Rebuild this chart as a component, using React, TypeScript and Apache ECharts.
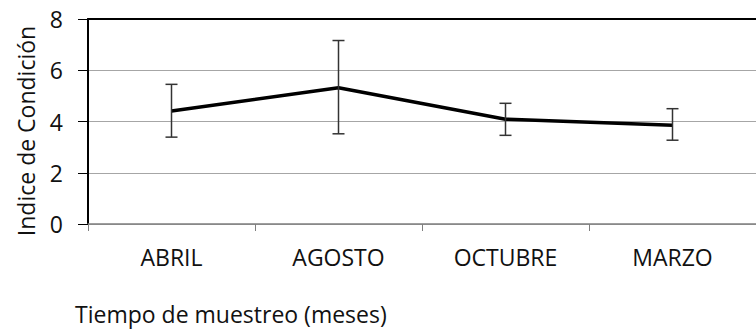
import React, { useEffect, useRef } from "react";
import * as echarts from "echarts";

const categories = ["ABRIL", "AGOSTO", "OCTUBRE", "MARZO"];
const means = [4.41, 5.32, 4.09, 3.85];
const errLow = [3.39, 3.52, 3.46, 3.27];
const errHigh = [5.45, 7.16, 4.71, 4.5];
const yTicks = [0, 2, 4, 6, 8];

const FONT = "'Open Sans', sans-serif";
const TXT = "#111111";

export default function App() {
  const ref = useRef<HTMLDivElement>(null);
  useEffect(() => {
    if (!ref.current) return;
    const chart = echarts.init(ref.current, null, { renderer: "svg" });
    const errData = categories.map((c, i) => [i, errLow[i], errHigh[i]]);
    chart.setOption({
      animation: false,
      backgroundColor: "#ffffff",
      grid: { left: 88, top: 19, width: 680, height: 205, containLabel: false },
      xAxis: [
        {
          type: "category",
          data: categories,
          boundaryGap: true,
          axisLine: { show: true, lineStyle: { color: "#7f7f7f", width: 1.5 } },
          axisTick: { show: true, length: 7, lineStyle: { color: "#7f7f7f", width: 1 } },
          axisLabel: { color: TXT, fontFamily: FONT, fontSize: 23, margin: 21 },
          splitLine: { show: false },
        },
        {
          type: "category",
          data: categories,
          position: "top",
          axisLine: { show: true, lineStyle: { color: "#000000", width: 2 } },
          axisTick: { show: false },
          axisLabel: { show: false },
        },
      ],
      yAxis: {
        type: "value",
        min: yTicks[0],
        max: yTicks[yTicks.length - 1],
        interval: 2,
        axisLine: { show: true, lineStyle: { color: "#000000", width: 2 } },
        axisTick: { show: true, length: 10, lineStyle: { color: "#000000", width: 1 } },
        axisLabel: { color: TXT, fontFamily: FONT, fontSize: 23, margin: 25 },
        splitLine: { show: true, lineStyle: { color: "#a6a6a6", width: 1.2 } },
      },
      series: [
        {
          type: "line",
          data: means,
          symbol: "none",
          lineStyle: { color: "#000000", width: 3.5 },
          z: 3,
        },
        {
          type: "custom",
          data: errData,
          z: 4,
          renderItem: (params: any, api: any) => {
            const idx = api.value(0);
            const lo = api.coord([idx, api.value(1)]);
            const hi = api.coord([idx, api.value(2)]);
            const hw = 6;
            const style = { stroke: "#333333", lineWidth: 1.5 };
            return {
              type: "group",
              children: [
                { type: "line", shape: { x1: hi[0], y1: hi[1], x2: lo[0], y2: lo[1] }, style },
                { type: "line", shape: { x1: hi[0] - hw, y1: hi[1], x2: hi[0] + hw, y2: hi[1] }, style },
                { type: "line", shape: { x1: lo[0] - hw, y1: lo[1], x2: lo[0] + hw, y2: lo[1] }, style },
              ],
            };
          },
        },
      ],
      graphic: [
        {
          type: "text",
          x: 26,
          y: 131,
          rotation: Math.PI / 2,
          style: {
            text: "Indice de Condición",
            fill: TXT,
            font: `23px ${FONT}`,
            align: "center",
            verticalAlign: "middle",
          },
        },
        {
          type: "text",
          x: 75,
          y: 314,
          style: {
            text: "Tiempo de muestreo (meses)",
            fill: TXT,
            font: `23px ${FONT}`,
            align: "left",
            verticalAlign: "middle",
          },
        },
      ],
    });
    return () => chart.dispose();
  }, []);
  return (
    <div
      ref={ref}
      style={{ position: "fixed", left: 0, top: 0, width: 756, height: 329, overflow: "hidden" }}
    />
  );
}
